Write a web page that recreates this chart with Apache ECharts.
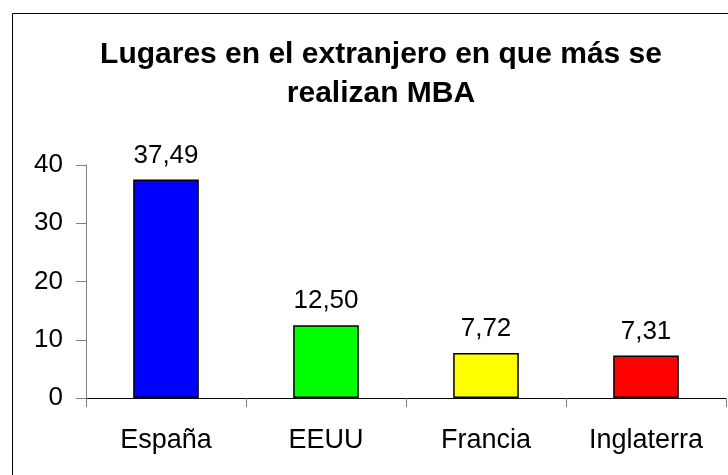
<!DOCTYPE html>
<html>
<head>
<meta charset="utf-8">
<script src="https://cdn.jsdelivr.net/npm/echarts@6/dist/echarts.min.js"></script>
<style>
  html, body { margin: 0; padding: 0; background: #fff; }
  #main { width: 728px; height: 475px; }
</style>
</head>
<body>
<div id="main"></div>
<script>
// datos del gráfico
const categories = ['España', 'EEUU', 'Francia', 'Inglaterra']
const values = [37.49, 12.50, 7.72, 7.31]
const barColors = ['#0000ff', '#00ff00', '#ffff00', '#ff0000']
const yTicks = [0, 10, 20, 30, 40]

const chart = echarts.init(document.getElementById('main'))
const font = 'Liberation Sans, Arial, sans-serif'

chart.setOption({
  backgroundColor: '#fff',
  animation: false,
  title: {
    text: 'Lugares en el extranjero en que más se\nrealizan MBA',
    left: 376,
    top: 30,
    textAlign: 'center',
    textStyle: {
      color: '#000',
      fontFamily: font,
      fontWeight: 'bold',
      fontSize: 30,
      lineHeight: 39
    }
  },
  // marco exterior (recortado a la derecha y abajo)
  graphic: [{
    type: 'rect',
    left: 10,
    top: 11,
    shape: { width: 800, height: 600 },
    style: { fill: 'none', stroke: '#000', lineWidth: 1 },
    silent: true
  }],
  grid: {
    left: 86,
    right: 2,
    top: 165,
    bottom: 77,
    containLabel: false
  },
  xAxis: {
    type: 'category',
    data: categories,
    axisLine: { lineStyle: { color: '#000', width: 1 } },
    axisTick: { show: true, length: 9, lineStyle: { color: '#808080' } },
    axisLabel: {
      color: '#000',
      fontFamily: font,
      fontSize: 27,
      margin: 29
    }
  },
  yAxis: {
    type: 'value',
    min: yTicks[0],
    max: yTicks[yTicks.length - 1],
    interval: 10,
    splitLine: { show: false },
    axisLine: { show: true, lineStyle: { color: '#808080', width: 1 } },
    axisTick: { show: true, length: 10, lineStyle: { color: '#808080' } },
    axisLabel: {
      color: '#000',
      fontFamily: font,
      fontSize: 26,
      margin: 23
    }
  },
  series: [{
    type: 'bar',
    barWidth: '41%',
    data: values.map((v, i) => ({
      value: v,
      itemStyle: { color: barColors[i], borderColor: '#000', borderWidth: 1.5 }
    })),
    label: {
      show: true,
      position: 'top',
      distance: 11,
      color: '#000',
      fontFamily: font,
      fontSize: 26,
      formatter: p => p.value.toFixed(2).replace('.', ',')
    }
  }]
})
</script>
</body>
</html>
